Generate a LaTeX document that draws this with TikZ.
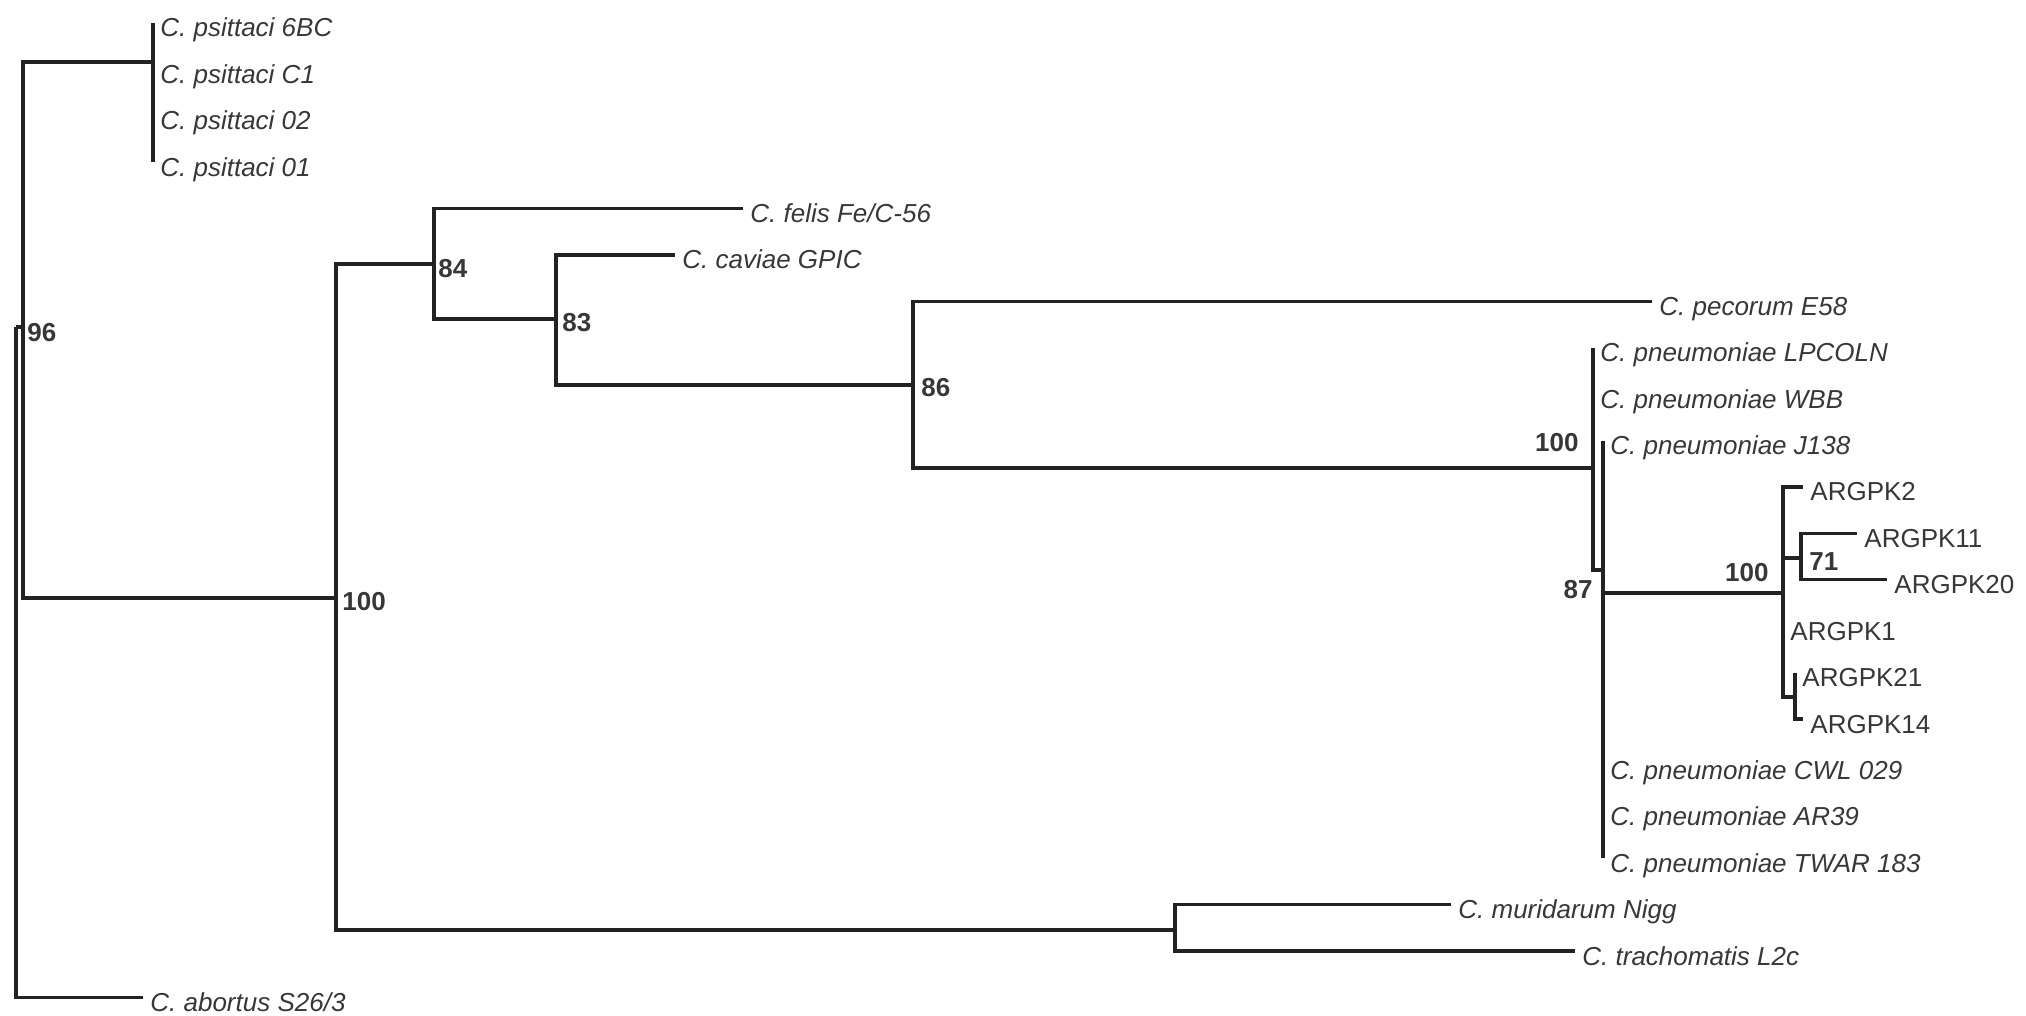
\documentclass[tikz,border=0pt]{standalone}
\usepackage{fontspec}
\setmainfont{Liberation Sans}
\definecolor{ln}{RGB}{35,35,35}
\definecolor{tx}{RGB}{55,55,55}
\begin{document}
\begin{tikzpicture}[x=0.5pt,y=-0.5pt,
  br/.style={draw=ln, line width=1.6pt},
  leaf/.style={anchor=base west, inner sep=0pt, text=tx, font=\fontsize{13}{15}\selectfont\itshape, xshift=3.5pt, yshift=-7pt},
  leafr/.style={leaf, font=\fontsize{13}{15}\selectfont},
  boot/.style={inner sep=0pt, text=tx, font=\fontsize{13}{15}\selectfont\bfseries}]
\useasboundingbox (0,0) rectangle (2026,1016);
% internal nodes and leaf ends
\coordinate (root) at (16,327);
\coordinate (n96) at (23,327);
\coordinate (npsit) at (153,62);
\coordinate (l1) at (153,23);
\coordinate (l2) at (153,69.4);
\coordinate (l3) at (153,115.8);
\coordinate (l4) at (153,162.2);
\coordinate (n100) at (336,598);
\coordinate (n84) at (434,264);
\coordinate (lfelis) at (743,208.6);
\coordinate (n83) at (556,319);
\coordinate (lcaviae) at (675,255);
\coordinate (n86) at (913,385);
\coordinate (lpecorum) at (1652,301.4);
\coordinate (np100) at (1593,468);
\coordinate (llpcoln) at (1593,347.8);
\coordinate (lwbb) at (1593,394.2);
\coordinate (n87) at (1603,570);
\coordinate (lj138) at (1603,440.6);
\coordinate (na100) at (1783,593);
\coordinate (la2) at (1803,487);
\coordinate (n71) at (1801,558);
\coordinate (la11) at (1857,533.4);
\coordinate (la20) at (1887,579.8);
\coordinate (la1) at (1783,626.2);
\coordinate (n2114) at (1795,697);
\coordinate (la21) at (1795,672.6);
\coordinate (la14) at (1803,719);
\coordinate (lcwl) at (1603,765.4);
\coordinate (lar39) at (1603,811.8);
\coordinate (ltwar) at (1603,858.2);
\coordinate (nmur) at (1175,930);
\coordinate (lmur) at (1451,904.6);
\coordinate (ltra) at (1575,951);
\coordinate (labo) at (143,997.4);
% branches
\draw[br] (root) |- (n96);
\draw[br] (root) |- (labo);
\draw[br] (n96) |- (npsit);
\draw[br] (n96) |- (n100);
\draw[br] (npsit) |- (l1);
\draw[br] (npsit) |- (l4);
\draw[br] (n100) |- (n84);
\draw[br] (n100) |- (nmur);
\draw[br] (n84) |- (lfelis);
\draw[br] (n84) |- (n83);
\draw[br] (n83) |- (lcaviae);
\draw[br] (n83) |- (n86);
\draw[br] (n86) |- (lpecorum);
\draw[br] (n86) |- (np100);
\draw[br] (np100) |- (llpcoln);
\draw[br] (np100) |- (n87);
\draw[br] (n87) |- (lj138);
\draw[br] (n87) |- (ltwar);
\draw[br] (n87) |- (na100);
\draw[br] (na100) |- (la2);
\draw[br] (na100) |- (n71);
\draw[br] (na100) |- (n2114);
\draw[br] (n71) |- (la11);
\draw[br] (n71) |- (la20);
\draw[br] (n2114) |- (la21);
\draw[br] (n2114) |- (la14);
\draw[br] (nmur) |- (lmur);
\draw[br] (nmur) |- (ltra);
% leaf labels
\node[leaf] (t1) at (l1) {C. psittaci 6BC};
\node[leaf] (t2) at (l2) {C. psittaci C1};
\node[leaf] (t3) at (l3) {C. psittaci 02};
\node[leaf] (t4) at (l4) {C. psittaci 01};
\node[leaf] (tfelis) at (lfelis) {C. felis Fe/C-56};
\node[leaf] (tcaviae) at (lcaviae) {C. caviae GPIC};
\node[leaf] (tpecorum) at (lpecorum) {C. pecorum E58};
\node[leaf] (tlpcoln) at (llpcoln) {C. pneumoniae LPCOLN};
\node[leaf] (twbb) at (lwbb) {C. pneumoniae WBB};
\node[leaf] (tj138) at (lj138) {C. pneumoniae J138};
\node[leafr] (ta2) at (la2) {ARGPK2};
\node[leafr] (ta11) at (la11) {ARGPK11};
\node[leafr] (ta20) at (la20) {ARGPK20};
\node[leafr] (ta1) at (la1) {ARGPK1};
\node[leafr] (ta21) at (la21) {ARGPK21};
\node[leafr] (ta14) at (la14) {ARGPK14};
\node[leaf] (tcwl) at (lcwl) {C. pneumoniae CWL 029};
\node[leaf] (tar39) at (lar39) {C. pneumoniae AR39};
\node[leaf] (ttwar) at (ltwar) {C. pneumoniae TWAR 183};
\node[leaf] (tmur) at (lmur) {C. muridarum Nigg};
\node[leaf] (ttra) at (ltra) {C. trachomatis L2c};
\node[leaf] (tabo) at (labo) {C. abortus S26/3};
% bootstrap values
\node[boot, anchor=west] (b96) at (27,333) {96};
\node[boot, anchor=west] (b100a) at (342,602) {100};
\node[boot, anchor=west] (b84) at (438,269) {84};
\node[boot, anchor=west] (b83) at (562,323) {83};
\node[boot, anchor=west] (b86) at (921,388) {86};
\node[boot, anchor=east] (b100b) at (1579,443) {100};
\node[boot, anchor=east] (b87) at (1593,590) {87};
\node[boot, anchor=east] (b100c) at (1769,573) {100};
\node[boot, anchor=west] (b71) at (1809,562) {71};
\end{tikzpicture}
\end{document}
